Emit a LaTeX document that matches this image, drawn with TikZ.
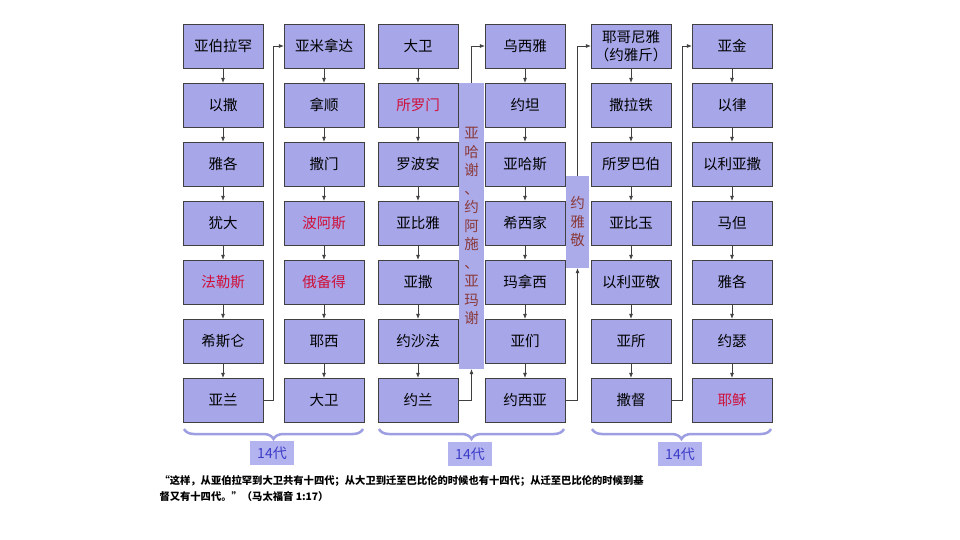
\documentclass[tikz,border=0pt]{standalone}
\usepackage{fontspec}
\setmainfont{Noto Sans CJK SC}
\usetikzlibrary{arrows.meta,decorations.pathreplacing}

\definecolor{boxfill}{HTML}{A6A6E8}
\definecolor{boxline}{HTML}{404040}
\definecolor{kinred}{HTML}{D0103A}
\definecolor{barfill}{HTML}{ABABEA}
\definecolor{bartext}{HTML}{8A3A3A}
\definecolor{bracecol}{HTML}{9E9EE2}
\definecolor{tagfill}{HTML}{B3B3F0}
\definecolor{tagtext}{HTML}{3C3CC8}
\newcommand{\hl}[1]{\textcolor{kinred}{#1}}

\tikzset{
	gen/.style={draw=boxline, fill=boxfill, minimum width=80pt, minimum height=44pt, inner sep=0pt, align=center, font=\fontsize{14.5}{18}\selectfont},
	link/.style={draw=boxline, line width=0.6pt, -{Latex[length=5pt,width=4pt]}},
	gapbar/.style={fill=barfill, text=bartext, inner sep=0pt, align=center, font=\fontsize{14.5}{18.5}\selectfont},
	span/.style={decorate, decoration={brace, mirror, amplitude=10pt}, draw=bracecol, line width=2.5pt},
	tag/.style={fill=tagfill, text=tagtext, minimum width=44pt, minimum height=24pt, inner sep=0pt, font=\fontsize{14}{16}\selectfont},
}

\begin{document}
\begin{tikzpicture}[x=1pt,y=-1pt]
				\fill[white] (0,0) rectangle (960,540);
				\useasboundingbox (0,0) rectangle (960,540);
				
				% six columns of generations
				\foreach \name [count=\r] in {亚伯拉罕,以撒,雅各,犹大,{\hl{法勒斯}},希斯仑,亚兰}
					\node[gen] (c1-\r) at (223,{46+59*(\r-1)}) {\name};
				\foreach \name [count=\r] in {亚米拿达,拿顺,撒门,{\hl{波阿斯}},{\hl{俄备得}},耶西,大卫}
					\node[gen] (c2-\r) at (324,{46+59*(\r-1)}) {\name};
				\foreach \name [count=\r] in {大卫,{\hl{所罗门}},罗波安,亚比雅,亚撒,约沙法,约兰}
					\node[gen] (c3-\r) at (418,{46+59*(\r-1)}) {\name};
				\foreach \name [count=\r] in {乌西雅,约坦,亚哈斯,希西家,玛拿西,亚们,约西亚}
					\node[gen] (c4-\r) at (525,{46+59*(\r-1)}) {\name};
				\foreach \name [count=\r] in {{耶哥尼雅\\（约雅斤）},撒拉铁,所罗巴伯,亚比玉,以利亚敬,亚所,撒督}
					\node[gen] (c5-\r) at (631,{46+59*(\r-1)}) {\name};
				\foreach \name [count=\r] in {亚金,以律,以利亚撒,马但,雅各,约瑟,{\hl{耶稣}}}
					\node[gen] (c6-\r) at (732,{46+59*(\r-1)}) {\name};
				
				\foreach \c in {1,...,6}
					\foreach \r in {1,...,6}{
						\pgfmathtruncatemacro{\n}{\r+1}
						\draw[link] (c\c-\r) -- (c\c-\n);
					}
				
				% skipped kings
				\node[gapbar, minimum width=25pt, minimum height=286pt] (bar1) at (471.5,226)
					{亚\\哈\\谢\\、\\约\\阿\\施\\、\\亚\\玛\\谢};
				\node[gapbar, minimum width=23pt, minimum height=92pt] (bar2) at (577.5,222)
					{约\\雅\\敬};
				
				\draw[link] (c1-7.east) -- ++(10.5,0) |- (c2-1.west);
				\draw[link] (c3-7.east) -| (bar1.south);
				\draw[link] (bar1.north) |- (c4-1.west);
				\draw[link] (c4-7.east) -| (bar2.south);
				\draw[link] (bar2.north) |- (c5-1.west);
				\draw[link] (c5-7.east) -- ++(11,0) |- (c6-1.west);
				
				% fourteen generations each
				\draw[span] (184,429) -- (363,429);
				\draw[span] (379,429) -- (564,429);
				\draw[span] (592,429) -- (771,429);
				\node[tag] (t1) at (272,453) {14代};
				\node[tag] (t2) at (470,454) {14代};
				\node[tag] (t3) at (680,454) {14代};
				
				\node[anchor=north west, align=left, font=\bfseries\fontsize{10.3}{15.5}\selectfont] (verse) at (156,472)
					{“这样，从亚伯拉罕到大卫共有十四代；从大卫到迁至巴比伦的时候也有十四代；从迁至巴比伦的时候到基\\督又有十四代。”（马太福音 1:17）};
			\end{tikzpicture}
\end{document}
